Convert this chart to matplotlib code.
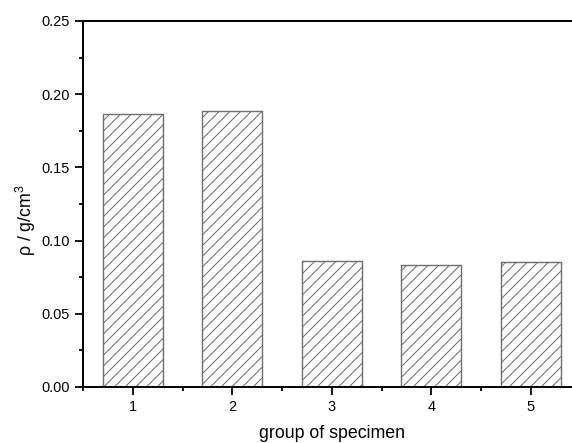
import matplotlib
matplotlib.use('Agg')
import matplotlib.pyplot as plt
from matplotlib.ticker import MultipleLocator

groups = [1, 2, 3, 4, 5]
density = [0.1863, 0.1888, 0.0860, 0.0832, 0.0852]
yticks = [0.00, 0.05, 0.10, 0.15, 0.20, 0.25]

plt.rcParams['font.family'] = ['Liberation Sans', 'DejaVu Sans']
plt.rcParams['mathtext.default'] = 'regular'
plt.rcParams['hatch.linewidth'] = 0.6

dpi = 128
fig = plt.figure(figsize=(572/dpi, 443/dpi), dpi=dpi)
ax = fig.add_axes([83/572, 56/443, 497.5/572, 366/443])

ax.bar(groups, density, width=0.6, facecolor='white', edgecolor='#707070',
       hatch='////', linewidth=0.8)

ax.set_xlim(0.5, 5.5)
ax.set_ylim(0, 0.25)
ax.set_xticks(groups)
ax.set_yticks(yticks)
ax.set_yticklabels(['%.2f' % v for v in yticks])
ax.xaxis.set_minor_locator(MultipleLocator(0.5))
ax.yaxis.set_minor_locator(MultipleLocator(0.025))
ax.tick_params(which='major', direction='out', length=4.5, width=1, labelsize=8.2, pad=3)
ax.tick_params(which='minor', direction='out', length=2.5, width=1)
for s in ax.spines.values():
    s.set_linewidth(1.1)

ax.set_xlabel('group of specimen', fontsize=10, labelpad=6)
ax.set_ylabel(r'$\rho$ / g/cm$^3$', fontsize=10)
ax.yaxis.set_label_coords(-0.09, 0.456)

fig.savefig('out.png', dpi=dpi)
